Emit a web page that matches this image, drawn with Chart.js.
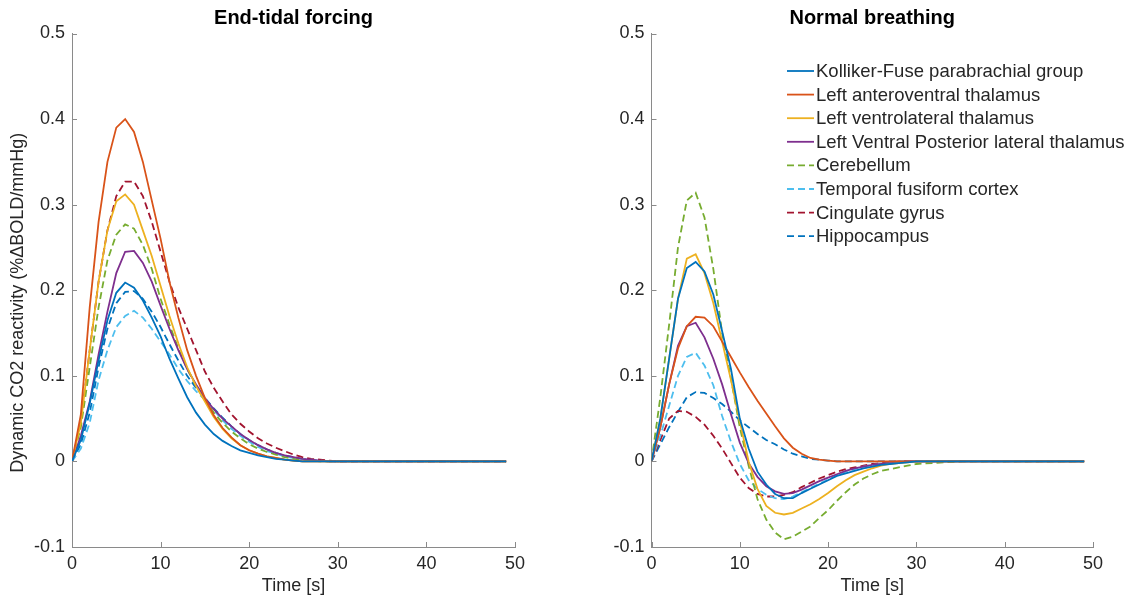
<!DOCTYPE html>
<html>
<head>
<meta charset="utf-8">
<title>Dynamic CO2 reactivity</title>
<script src="https://cdn.jsdelivr.net/npm/chart.js@4.4.1/dist/chart.umd.min.js"></script>
<style>
  html, body { margin: 0; padding: 0; background: #fff; }
  body { width: 1138px; height: 602px; position: relative; overflow: hidden; }
  .panel { position: absolute; top: 0; height: 602px; }
  #leftPanel { left: 0; width: 545px; }
  #rightPanel { left: 580px; width: 558px; }
</style>
</head>
<body>
<div class="panel" id="leftPanel"><canvas id="endTidal"></canvas></div>
<div class="panel" id="rightPanel"><canvas id="normalBreathing"></canvas></div>
<script>
// time axis [s]
const time = [0, 1, 2, 3, 4, 5, 6, 7, 8, 9,
  10, 11, 12, 13, 14, 15, 16, 17, 18, 19,
  20, 21, 22, 23, 24, 25, 26, 27, 28, 29,
  30, 35, 49];

const regions = [
  'Kolliker-Fuse parabrachial group',
  'Left anteroventral thalamus',
  'Left ventrolateral thalamus',
  'Left Ventral Posterior lateral thalamus',
  'Cerebellum',
  'Temporal fusiform cortex',
  'Cingulate gyrus',
  'Hippocampus'
];

const yTicks = [-0.1, 0, 0.1, 0.2, 0.3, 0.4, 0.5];
const xTicks = [0, 10, 20, 30, 40, 50];

// End-tidal forcing (%BOLD/mmHg)
const etKF = [0, 0.025, 0.068, 0.118, 0.165, 0.197, 0.209, 0.203, 0.188, 0.168,
  0.146, 0.12, 0.097, 0.075, 0.057, 0.043, 0.032, 0.024, 0.018, 0.013,
  0.01, 0.007, 0.005, 0.003, 0.002, 0.001, 0, 0, 0, 0,
  0, 0, 0];
const etLAV = [0, 0.055, 0.18, 0.28, 0.35, 0.39, 0.40, 0.385, 0.35, 0.305,
  0.26, 0.21, 0.168, 0.13, 0.10, 0.074, 0.054, 0.039, 0.028, 0.019,
  0.013, 0.009, 0.006, 0.004, 0.002, 0.001, 0, 0, 0, 0,
  0, 0, 0];
const etLVL = [0, 0.045, 0.13, 0.21, 0.27, 0.304, 0.312, 0.30, 0.27, 0.24,
  0.205, 0.17, 0.138, 0.11, 0.088, 0.07, 0.052, 0.038, 0.027, 0.019,
  0.013, 0.009, 0.006, 0.004, 0.002, 0.001, 0, 0, 0, 0,
  0, 0, 0];
const etVPL = [0, 0.03, 0.07, 0.125, 0.175, 0.22, 0.245, 0.246, 0.232, 0.21,
  0.182, 0.155, 0.13, 0.108, 0.09, 0.074, 0.061, 0.05, 0.041, 0.032,
  0.025, 0.019, 0.014, 0.01, 0.007, 0.005, 0.003, 0.002, 0.001, 0,
  0, 0, 0];
const etCB = [0, 0.04, 0.11, 0.18, 0.235, 0.265, 0.277, 0.272, 0.253, 0.225,
  0.19, 0.16, 0.132, 0.108, 0.088, 0.072, 0.057, 0.045, 0.035, 0.027,
  0.02, 0.015, 0.011, 0.008, 0.005, 0.003, 0.002, 0.001, 0, 0,
  0, 0, 0];
const etTF = [0, 0.015, 0.045, 0.095, 0.13, 0.157, 0.17, 0.176, 0.168, 0.155,
  0.14, 0.125, 0.108, 0.094, 0.082, 0.072, 0.06, 0.048, 0.038, 0.03,
  0.023, 0.017, 0.012, 0.009, 0.006, 0.004, 0.003, 0.002, 0.001, 0,
  0, 0, 0];
const etCG = [0, 0.045, 0.13, 0.21, 0.27, 0.31, 0.327, 0.327, 0.31, 0.28,
  0.245, 0.21, 0.18, 0.155, 0.13, 0.105, 0.086, 0.07, 0.055, 0.044,
  0.035, 0.027, 0.021, 0.016, 0.012, 0.008, 0.005, 0.003, 0.002, 0.001,
  0, 0, 0];
const etHC = [0, 0.02, 0.057, 0.11, 0.155, 0.185, 0.198, 0.199, 0.19, 0.175,
  0.157, 0.137, 0.118, 0.1, 0.086, 0.074, 0.062, 0.051, 0.041, 0.032,
  0.025, 0.019, 0.014, 0.01, 0.007, 0.005, 0.003, 0.002, 0.001, 0,
  0, 0, 0];

// Normal breathing
const nbKF = [0, 0.05, 0.12, 0.19, 0.226, 0.233, 0.222, 0.195, 0.152, 0.108,
  0.05, 0.015, -0.012, -0.027, -0.038, -0.043, -0.043, -0.037, -0.032, -0.027,
  -0.022, -0.017, -0.014, -0.011, -0.008, -0.006, -0.004, -0.003, -0.002, -0.001,
  0, 0, 0];
const nbLAV = [0, 0.04, 0.09, 0.132, 0.158, 0.169, 0.168, 0.158, 0.14, 0.122,
  0.104, 0.087, 0.071, 0.056, 0.041, 0.027, 0.016, 0.009, 0.004, 0.002,
  0.001, 0, 0, 0, 0, 0, 0, 0, 0, 0,
  0, 0, 0];
const nbLVL = [0, 0.05, 0.12, 0.19, 0.237, 0.242, 0.22, 0.185, 0.14, 0.095,
  0.047, 0, -0.032, -0.052, -0.06, -0.062, -0.06, -0.055, -0.05, -0.044,
  -0.037, -0.029, -0.022, -0.016, -0.012, -0.008, -0.005, -0.003, -0.002, -0.001,
  0, 0, 0];
const nbVPL = [0, 0.04, 0.09, 0.135, 0.158, 0.162, 0.145, 0.12, 0.09, 0.055,
  0.022, -0.002, -0.018, -0.029, -0.035, -0.038, -0.037, -0.033, -0.028, -0.023,
  -0.019, -0.015, -0.011, -0.008, -0.006, -0.004, -0.003, -0.002, -0.001, 0,
  0, 0, 0];
const nbCB = [0, 0.075, 0.16, 0.25, 0.305, 0.314, 0.285, 0.225, 0.15, 0.097,
  0.04, -0.005, -0.044, -0.068, -0.083, -0.091, -0.088, -0.082, -0.076, -0.066,
  -0.057, -0.046, -0.036, -0.027, -0.02, -0.015, -0.011, -0.009, -0.007, -0.005,
  -0.003, 0, 0];
const nbTF = [0, 0.03, 0.065, 0.10, 0.122, 0.127, 0.112, 0.089, 0.053, 0.023,
  -0.003, -0.022, -0.032, -0.039, -0.043, -0.044, -0.041, -0.036, -0.031, -0.026,
  -0.021, -0.016, -0.012, -0.009, -0.006, -0.004, -0.003, -0.002, -0.001, 0,
  0, 0, 0];
const nbCG = [0, 0.025, 0.05, 0.059, 0.058, 0.052, 0.043, 0.03, 0.015, -0.002,
  -0.019, -0.031, -0.038, -0.041, -0.041, -0.039, -0.036, -0.03, -0.025, -0.02,
  -0.016, -0.012, -0.009, -0.007, -0.005, -0.003, -0.002, -0.001, 0, 0,
  0, 0, 0];
const nbHC = [0, 0.02, 0.04, 0.058, 0.075, 0.081, 0.08, 0.074, 0.067, 0.058,
  0.048, 0.04, 0.032, 0.025, 0.02, 0.014, 0.009, 0.006, 0.003, 0.002,
  0.001, 0, 0, 0, 0, 0, 0, 0, 0, 0,
  0, 0, 0];

// matlab default line colours, 4 solid then 4 dashed
const colors = ['#0072BD', '#D95319', '#EDB120', '#7E2F8E', '#77AC30', '#4DBEEE', '#A2142F', '#0072BD'];
const dashes = [[], [], [], [], [7, 4], [7, 4], [7, 4], [7, 4]];

const FONT = '"Liberation Sans", Arial, Helvetica, sans-serif';
const TEXT_COLOR = '#262626';
const AXIS_COLOR = '#8a8a8a';
const FS = 18;

// small inward tick marks, like matlab
const innerTicks = {
  id: 'innerTicks',
  afterDraw(chart) {
    const { ctx, chartArea, scales } = chart;
    ctx.save();
    ctx.strokeStyle = AXIS_COLOR;
    ctx.lineWidth = 1;
    ctx.beginPath();
    scales.y.ticks.forEach(t => {
      const py = Math.round(scales.y.getPixelForValue(t.value)) + 0.5;
      ctx.moveTo(chartArea.left, py);
      ctx.lineTo(chartArea.left + 5, py);
    });
    scales.x.ticks.forEach(t => {
      const px = Math.round(scales.x.getPixelForValue(t.value)) + 0.5;
      ctx.moveTo(px, chartArea.bottom);
      ctx.lineTo(px, chartArea.bottom - 5);
    });
    ctx.stroke();
    ctx.restore();
  }
};

// legend drawn inside the plot, with dashed samples
const insideLegend = {
  id: 'insideLegend',
  afterDraw(chart, args, opts) {
    if (!opts.show) return;
    const ctx = chart.ctx;
    ctx.save();
    ctx.font = opts.fontSize + 'px ' + FONT;
    ctx.textBaseline = 'middle';
    chart.data.datasets.forEach((ds, i) => {
      const y = opts.top + i * opts.rowHeight;
      ctx.strokeStyle = ds.borderColor;
      ctx.lineWidth = ds.borderWidth;
      ctx.setLineDash(ds.borderDash || []);
      ctx.beginPath();
      ctx.moveTo(opts.left, y);
      ctx.lineTo(opts.left + 27, y);
      ctx.stroke();
      ctx.setLineDash([]);
      ctx.fillStyle = TEXT_COLOR;
      ctx.fillText(ds.label, opts.left + 29, y + 1);
    });
    ctx.restore();
  }
};

function makeDatasets(series) {
  return series.map((values, i) => ({
    label: regions[i],
    data: time.map((t, k) => ({ x: t, y: values[k] })),
    borderColor: colors[i],
    backgroundColor: colors[i],
    borderDash: dashes[i],
    borderWidth: 1.8,
    pointRadius: 0,
    tension: 0,
    fill: false
  }));
}

function makeChart(canvasId, titleText, series, cfg) {
  return new Chart(document.getElementById(canvasId), {
    type: 'line',
    data: { datasets: makeDatasets(series) },
    options: {
      responsive: true,
      maintainAspectRatio: false,
      animation: false,
      layout: { padding: { left: 0, right: cfg.padRight, top: 0, bottom: 0 } },
      plugins: {
        legend: { display: false },
        tooltip: { enabled: false },
        title: {
          display: true,
          text: titleText,
          fullSize: false,
          color: '#000',
          font: { family: FONT, size: 20, weight: 'bold' },
          padding: { top: 6.5, bottom: 3 }
        },
        insideLegend: cfg.legend || { show: false }
      },
      scales: {
        x: {
          type: 'linear',
          min: 0,
          max: 50,
          afterBuildTicks: s => { s.ticks = xTicks.map(v => ({ value: v })); },
          afterFit: s => { s.height = 55; },
          grid: { display: true, drawOnChartArea: false, drawTicks: false },
          border: { display: true, color: AXIS_COLOR, width: 1 },
          ticks: { color: TEXT_COLOR, font: { family: FONT, size: FS }, padding: 6, maxRotation: 0 },
          title: { display: true, text: 'Time [s]', color: TEXT_COLOR, font: { family: FONT, size: FS }, padding: { top: 0, bottom: 5 } }
        },
        y: {
          min: -0.1,
          max: 0.5,
          afterBuildTicks: s => { s.ticks = yTicks.map(v => ({ value: v })); },
          afterFit: s => { s.width = cfg.yWidth; },
          grid: { display: true, drawOnChartArea: false, drawTicks: false },
          border: { display: true, color: AXIS_COLOR, width: 1 },
          ticks: {
            color: TEXT_COLOR,
            font: { family: FONT, size: FS },
            padding: 7,
            callback: v => String(Number(v.toFixed(1)))
          },
          title: {
            display: !!cfg.yTitle,
            text: cfg.yTitle || '',
            color: TEXT_COLOR,
            font: { family: FONT, size: FS },
            padding: { top: 7, bottom: 0 }
          }
        }
      }
    },
    plugins: [innerTicks, insideLegend]
  });
}

// trailing spaces push the rotated label a little lower, as in the figure
makeChart('endTidal', 'End-tidal forcing',
  [etKF, etLAV, etLVL, etVPL, etCB, etTF, etCG, etHC],
  { padRight: 30, yWidth: 72, yTitle: 'Dynamic CO2 reactivity (%\u0394BOLD/mmHg)     ' });

makeChart('normalBreathing', 'Normal breathing',
  [nbKF, nbLAV, nbLVL, nbVPL, nbCB, nbTF, nbCG, nbHC],
  { padRight: 45, yWidth: 71.5, legend: { show: true, left: 207, top: 71, rowHeight: 23.6, fontSize: 18.5 } });
</script>
</body>
</html>
